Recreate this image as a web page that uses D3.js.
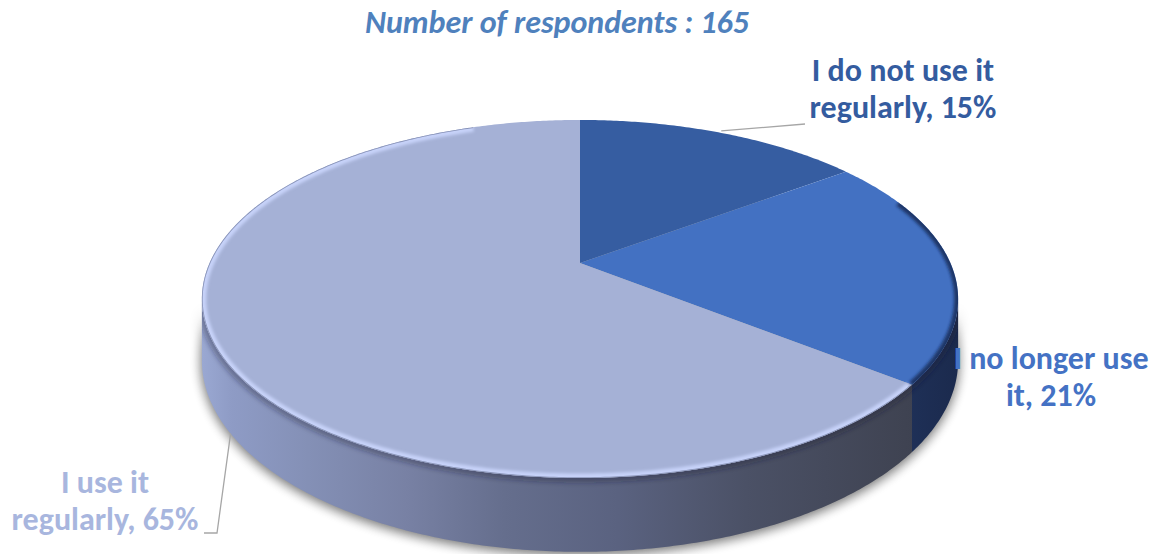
<!DOCTYPE html>
<html>
<head>
<meta charset="utf-8">
<script src="https://cdn.jsdelivr.net/npm/d3@7"></script>
<style>
  body { margin: 0; background: #ffffff; }
  svg { display: block; }
  text { font-family: Carlito, Lato, "Open Sans", sans-serif; font-weight: 700; }
</style>
</head>
<body>
<svg id="chart" width="1153" height="554"></svg>
<script>
// ---- data ----
const categories = ["I do not use it regularly", "I no longer use it", "I use it regularly"];
const values = [15, 21, 65];
const labelLines = [
  ["I do not use it", "regularly, 15%"],
  ["I no longer use", "it, 21%"],
  ["I use it", "regularly, 65%"]
];
const titleText = "Number of respondents : 165";

// ---- styling ----
const topColors = ["#365da1", "#4371c2", "#a5b1d6"];
const labelColors = ["#345c9f", "#4472c4", "#a8b6de"];

// ---- 3D pie geometry (perspective projection of a flat cylinder) ----
const cx = 580, cy = 263;       // projected pie centre
const A = 370.4, B = 171.8;     // horizontal / depth radii
const K = 0.201;                // perspective strength (front larger)
const H = 59;                   // cylinder thickness

function proj(theta, z) {
  const u = Math.sin(theta), v = -Math.cos(theta);
  const w = 1 - K * v;
  return [cx + A * u / w, cy + (B * v + H * z) / w];
}
function arcPts(a0, a1, z) {
  const n = Math.max(2, Math.ceil(Math.abs(a1 - a0) / 0.01));
  return d3.range(n + 1).map(i => proj(a0 + (a1 - a0) * i / n, z));
}
const line = d3.line();

const svg = d3.select("#chart");
const defs = svg.append("defs");

defs.append("filter").attr("id", "shadowBlur")
  .attr("x", "-20%").attr("y", "-20%").attr("width", "140%").attr("height", "140%")
  .append("feGaussianBlur").attr("stdDeviation", 6);
defs.append("filter").attr("id", "rimBlur")
  .attr("x", "-10%").attr("y", "-10%").attr("width", "120%").attr("height", "120%")
  .append("feGaussianBlur").attr("stdDeviation", 1.8);
defs.append("filter").attr("id", "bandBlur")
  .attr("x", "-10%").attr("y", "-10%").attr("width", "120%").attr("height", "120%")
  .append("feGaussianBlur").attr("stdDeviation", 2.5);

const pie = d3.pie().sort(null).value(d => d)
  .startAngle(0).endAngle(2 * Math.PI);
const arcs = pie(values);

// silhouette angles where the side wall meets the outline
const tRight = Math.acos(-K), tLeft = 2 * Math.PI - Math.acos(-K);

// side wall gradients
const g3 = defs.append("linearGradient").attr("id", "side3")
  .attr("gradientUnits", "userSpaceOnUse")
  .attr("x1", cx - 378).attr("x2", cx + 378).attr("y1", 0).attr("y2", 0);
[[0, "#9aa8d2"], [0.04, "#8e9bc5"], [0.14, "#8490b6"], [0.27, "#7881a4"],
 [0.4, "#656e8d"], [0.55, "#5a6280"], [0.72, "#4b5166"], [0.93, "#3f4352"], [1, "#3a3e4c"]]
  .forEach(([o, c]) => g3.append("stop").attr("offset", o).attr("stop-color", c));
const g2 = defs.append("linearGradient").attr("id", "side2")
  .attr("gradientUnits", "userSpaceOnUse")
  .attr("x1", cx + 320).attr("x2", cx + 378).attr("y1", 0).attr("y2", 0);
[[0, "#1f3159"], [1, "#1b2a4d"]]
  .forEach(([o, c]) => g2.append("stop").attr("offset", o).attr("stop-color", c));
const sideFill = ["#22365f", "url(#side2)", "url(#side3)"];

// clip paths: whole top face and front side region
defs.append("clipPath").attr("id", "topClip").append("path")
  .attr("d", line(arcPts(0, 2 * Math.PI, 0)) + "Z");
const sideRegion = line(arcPts(tRight, tLeft, 0).concat(arcPts(tLeft, tRight, 1))) + "Z";
defs.append("clipPath").attr("id", "sideClip").append("path").attr("d", sideRegion);

// soft drop shadow under the cylinder
svg.append("path")
  .attr("d", line(arcPts(0, 2 * Math.PI, 1)) + "Z")
  .attr("transform", "translate(0,2)")
  .attr("fill", "#000").attr("opacity", 0.32)
  .attr("filter", "url(#shadowBlur)");
svg.append("path")
  .attr("d", sideRegion)
  .attr("transform", "translate(0,3)")
  .attr("fill", "#000").attr("opacity", 0.34)
  .attr("filter", "url(#shadowBlur)");

// side walls (only the front half is visible)
const sideG = svg.append("g");
arcs.forEach((a, i) => {
  const s = Math.max(a.startAngle, tRight), e = Math.min(a.endAngle, tLeft);
  if (e <= s) return;
  sideG.append("path")
    .attr("d", line(arcPts(s, e, 0).concat(arcPts(e, s, 1))) + "Z")
    .attr("fill", sideFill[i]);
});
// dark band just under the top rim
sideG.append("path")
  .attr("d", line(arcPts(tRight, tLeft, 0)))
  .attr("clip-path", "url(#sideClip)")
  .attr("fill", "none").attr("stroke", "#1e2336").attr("stroke-opacity", 0.35)
  .attr("stroke-width", 9).attr("filter", "url(#bandBlur)");

// top face slices
const topG = svg.append("g");
arcs.forEach((a, i) => {
  topG.append("path")
    .attr("d", line([[cx, cy]].concat(arcPts(a.startAngle, a.endAngle, 0))) + "Z")
    .attr("fill", topColors[i]);
});

// bevel along the rim of the top face
const bevel = svg.append("g").attr("clip-path", "url(#topClip)");
bevel.append("path")   // light bevel on the large slice
  .attr("d", line(arcPts(arcs[2].startAngle + 0.01, arcs[2].endAngle - 0.35, 0)))
  .attr("fill", "none").attr("stroke", "#cdd8ff").attr("stroke-opacity", 0.85)
  .attr("stroke-width", 9).attr("filter", "url(#rimBlur)");
bevel.append("path")
  .attr("d", line(arcPts(arcs[2].startAngle + 0.01, arcs[2].endAngle - 0.35, 0)))
  .attr("fill", "none").attr("stroke", "#4a5373").attr("stroke-opacity", 0.5)
  .attr("stroke-width", 1.6);
bevel.append("path")   // shaded bevel on the right-hand slice
  .attr("d", line(arcPts(arcs[1].startAngle + 0.25, arcs[1].endAngle, 0)))
  .attr("fill", "none").attr("stroke", "#14244a").attr("stroke-opacity", 0.75)
  .attr("stroke-width", 8).attr("filter", "url(#rimBlur)");

// title
svg.append("text")
  .attr("x", 557).attr("y", 33)
  .attr("text-anchor", "middle")
  .attr("font-size", 32).attr("font-style", "italic")
  .attr("fill", "#4f81bd")
  .text(titleText);

// labels with leader lines
const labelLayout = [
  { x: 903, y: 81, lead: a => { const p = proj((a.startAngle + a.endAngle) / 2, 0); return [[p[0], p[1] - 2], [805, 124]]; } },
  { x: 1051, y: 369, lead: null },
  { x: 105, y: 493, lead: a => { const p = proj(a.startAngle + (a.endAngle - a.startAngle) * 0.47, 1); return [[p[0], p[1]], [217, 533], [204, 533]]; } }
];
const lineGap = 37;
arcs.forEach((a, i) => {
  const L = labelLayout[i];
  const t = svg.append("text")
    .attr("text-anchor", "middle")
    .attr("font-size", 32)
    .attr("fill", labelColors[i]);
  labelLines[i].forEach((s, j) => {
    t.append("tspan").attr("x", L.x).attr("y", L.y + j * lineGap).text(s);
  });
  if (L.lead) {
    svg.append("path")
      .attr("d", line(L.lead(a)))
      .attr("fill", "none").attr("stroke", "#a6a6a6").attr("stroke-width", 1.3);
  }
});
</script>
</body>
</html>
